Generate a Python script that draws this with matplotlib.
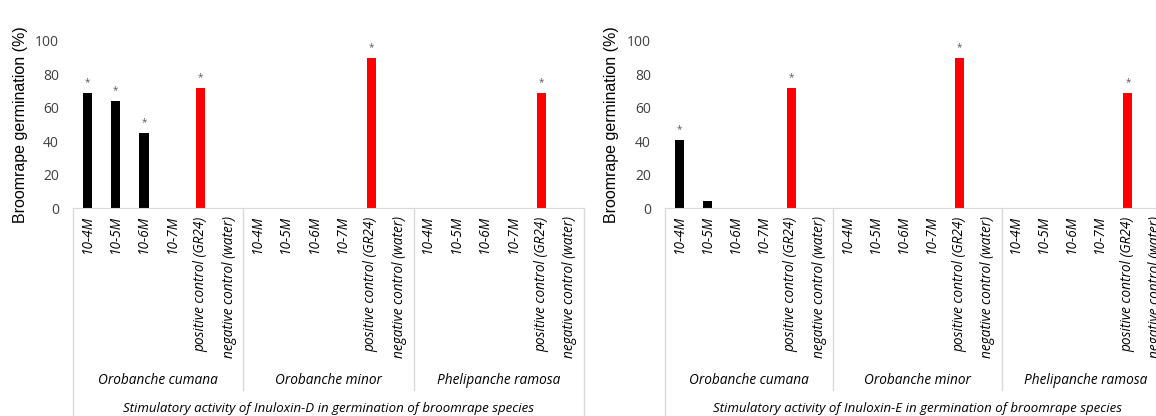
import matplotlib
matplotlib.use('Agg')
import matplotlib.pyplot as plt
import matplotlib.transforms as mtransforms

plt.rcParams['font.family'] = ['Open Sans', 'DejaVu Sans']

doses = ['10-4M', '10-5M', '10-6M', '10-7M', 'positive control (GR24)', 'negative control (water)']
species = ['Orobanche cumana', 'Orobanche minor', 'Phelipanche ramosa']

# germination (%) per species x treatment
inuloxin_d = [69, 64, 45, 0, 72, 0,
              0, 0, 0, 0, 90, 0,
              0, 0, 0, 0, 69, 0]
inuloxin_e = [41, 4, 0, 0, 72, 0,
              0, 0, 0, 0, 90, 0,
              0, 0, 0, 0, 69, 0]
signif_d = [1, 1, 1, 0, 1, 0,
            0, 0, 0, 0, 1, 0,
            0, 0, 0, 0, 1, 0]
signif_e = [1, 0, 0, 0, 1, 0,
            0, 0, 0, 0, 1, 0,
            0, 0, 0, 0, 1, 0]
titles = ['Stimulatory activity of Inuloxin-D in germination of broomrape species',
          'Stimulatory activity of Inuloxin-E in germination of broomrape species']

W, H = 1156, 416
fig = plt.figure(figsize=(W / 100, H / 100), dpi=100)

grid = '#d9d9d9'
txt = '#404040'


def panel(rect, values, signif, title, label_x):
    ax = fig.add_axes(rect)
    n = len(values)
    xs = list(range(n))
    labels = doses * len(species)
    colors = ['#ff0000' if 'positive' in l else 'black' for l in labels]
    ax.bar(xs, values, width=0.32, color=colors)
    for x, v, s in zip(xs, values, signif):
        if s:
            ax.text(x, v + 6, '*', ha='center', va='center', fontsize=7, color='#595959')

    ax.set_xlim(-0.5, n - 0.5)
    ax.set_ylim(0, 100)
    ax.set_yticks([0, 20, 40, 60, 80, 100])
    ax.tick_params(axis='y', length=0, pad=10, labelsize=10, labelcolor=txt)
    ax.set_xticks(xs)
    ax.set_xticklabels(labels, rotation=90, fontstyle='italic', fontsize=9.8, color='black')
    ax.tick_params(axis='x', length=0, pad=6)
    for sp in ['top', 'right', 'left']:
        ax.spines[sp].set_visible(False)
    ax.spines['bottom'].set_color(grid)

    ax.set_ylabel('Broomrape germination (%)', fontsize=11.5, color='black',
                  family=['Liberation Sans', 'DejaVu Sans'])
    ax.yaxis.set_label_coords(label_x, 0.5)

    tr = mtransforms.blended_transform_factory(ax.transData, ax.transAxes)
    # outer borders and group separators of the category table
    ax.plot([-0.5, -0.5], [0, -1.3], color=grid, lw=1, transform=tr, clip_on=False)
    for g in range(1, len(species) + 1):
        xb = g * len(doses) - 0.5
        y_end = -1.3 if g == len(species) else -1.09
        ax.plot([xb, xb], [0, y_end], color=grid, lw=1, transform=tr, clip_on=False)
    for g, name in enumerate(species):
        xc = g * len(doses) + (len(doses) - 1) / 2
        ax.text(xc, -1.035, name, transform=tr, ha='center', va='center',
                fontstyle='italic', fontsize=9.8)
    ax.text((n - 1) / 2, -1.198, title, transform=tr, ha='center', va='center',
            fontstyle='italic', fontsize=9.5)
    return ax


bottom = 1 - 208 / H
height = 167 / H
panel([73 / W, bottom, 511 / W, height], inuloxin_d, signif_d, titles[0], -0.088)
panel([665 / W, bottom, 505 / W, height], inuloxin_e, signif_e, titles[1], -0.091)

fig.savefig('out.png', dpi=100)
